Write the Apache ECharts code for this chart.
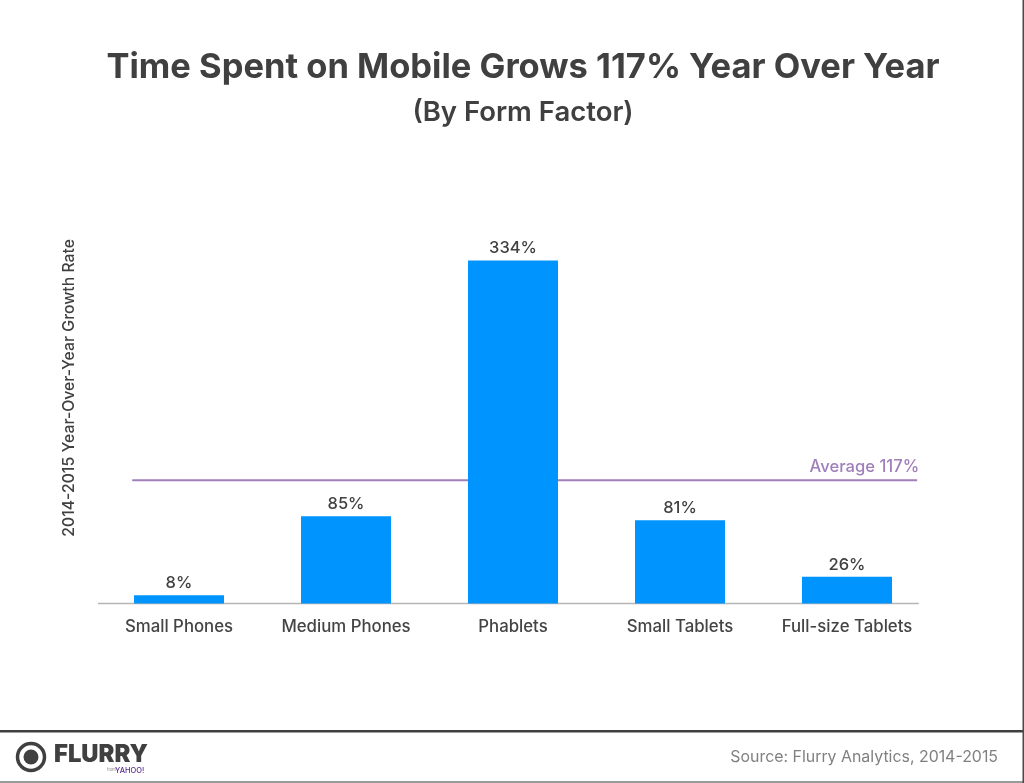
<!DOCTYPE html>
<html><head><meta charset="utf-8">
<style>html,body{margin:0;padding:0;background:#fff}#c{width:1024px;height:783px}</style>
<script src="https://cdn.jsdelivr.net/npm/echarts@6/dist/echarts.min.js"></script>
</head><body><div id="c"></div>
<script>
const categories = ['Small Phones','Medium Phones','Phablets','Small Tablets','Full-size Tablets'];
const growth = [8,85,334,81,26];
const averageLevel = [120,120];   // where the drawn line sits on the bar scale
const averageSpan = [4.4,98.4];       // along the plot, percent
const baselineSpan = [0.3,98.6];
const baselineLevel = [0,0];
const FF = 'Inter';
const chart = echarts.init(document.getElementById('c'),null,{renderer:'canvas'});
const pairs=(xs,ys)=>xs.map((x,i)=>[x,ys[i]]);
chart.setOption({
  animation:false,
  backgroundColor:'#fff',
  textStyle:{fontFamily:FF},
  title:[
    {text:'Time Spent on Mobile Grows 117% Year Over Year',left:518,top:45,textAlign:'center',
     textStyle:{fontFamily:FF,fontSize:34.5,fontWeight:700,color:'#404040'}},
    {text:'(By Form Factor)',left:518,top:94,textAlign:'center',
     textStyle:{fontFamily:FF,fontSize:27.5,fontWeight:600,color:'#404040'}}
  ],
  grid:{left:95.5,width:835,top:172.2,height:431.3},
  xAxis:[
    {type:'category',data:categories,axisLine:{show:false},axisTick:{show:false},
     axisLabel:{interval:0,margin:14.5,fontFamily:FF,fontSize:16.8,fontWeight:500,color:'#444'}},
    {type:'value',min:0,max:100,show:false}
  ],
  yAxis:{type:'value',min:0,max:420,show:true,splitLine:{show:false},axisLine:{show:false},axisTick:{show:false},axisLabel:{show:false},
    name:'2014-2015 Year-Over-Year Growth Rate',nameLocation:'middle',nameGap:18,
    nameTextStyle:{fontFamily:FF,fontSize:15.8,fontWeight:500,color:'#404040'}},
  series:[
    {type:'line',xAxisIndex:1,data:pairs(baselineSpan,baselineLevel),symbol:'none',silent:true,z:1,clip:false,
     lineStyle:{color:'#b5b5b5',width:1.5}},
    {type:'bar',data:growth,barWidth:90,itemStyle:{color:'#0094ff'},z:2,
     label:{show:true,position:'top',distance:3.5,formatter:'{c}%',fontFamily:FF,fontSize:16.5,fontWeight:500,color:'#404040'}},
    {type:'line',xAxisIndex:1,data:pairs(averageSpan,averageLevel),symbol:'none',silent:true,z:1,
     lineStyle:{color:'#a07fba',width:1.8},
     endLabel:{show:true,formatter:'Average 117%',position:'insideEndTop',offset:[-6,-13],align:'right',fontFamily:FF,fontSize:16.6,fontWeight:500,color:'#a07fba'}}
  ],
  graphic:[
    {type:'rect',shape:{x:0,y:730,width:1024,height:2.5},style:{fill:'#3f3f3f'},silent:true},
    {type:'rect',shape:{x:0,y:781,width:1024,height:2},style:{fill:'#9a9a9a'},silent:true},
    {type:'rect',shape:{x:1022.5,y:0,width:1.5,height:783},style:{fill:'#4a4a4a'},silent:true},
    {type:'circle',shape:{cx:31,cy:757,r:13.5},style:{fill:'none',stroke:'#404040',lineWidth:3.5},silent:true},
    {type:'circle',shape:{cx:31,cy:757,r:7.5},style:{fill:'#404040'},silent:true},
    {type:'text',x:54,y:743,style:{text:'FLURRY',font:'900 23.8px "Inter"',fill:'#404040'},silent:true},
    {type:'text',x:107,y:768,style:{text:'from',font:'400 4px "Inter"',fill:'#7b7b7b'},silent:true},
    {type:'text',x:115,y:767,style:{text:'YAHOO!',font:'500 7.5px "Inter"',fill:'#5c2d91'},silent:true},
    {type:'text',x:998,y:749,style:{text:'Source: Flurry Analytics, 2014-2015',align:'right',font:'400 15.9px "Inter"',fill:'#808080'},silent:true}
  ]
});
</script></body></html>
